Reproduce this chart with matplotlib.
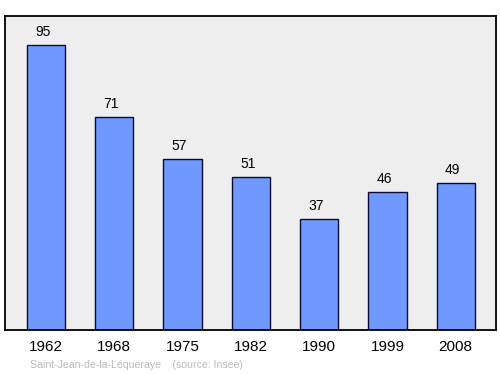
import matplotlib.pyplot as plt

plt.rcParams['font.family'] = ['Liberation Sans', 'DejaVu Sans']

# population data
years = ['1962', '1968', '1975', '1982', '1990', '1999', '2008']
population = [95, 71, 57, 51, 37, 46, 49]

fig = plt.figure(figsize=(5, 3.74), dpi=100)
ax = fig.add_axes([5 / 500, 1 - 330 / 374, 491 / 500, 314 / 374])
ax.set_facecolor('#eeeeee')

x = range(len(years))
ax.bar(x, population, width=0.56, color='#7099ff', edgecolor='#0a0a33', linewidth=1)

for i, v in zip(x, population):
    ax.text(i - 0.045, v + 2.1, str(v), ha='center', va='bottom', fontsize=10)

ax.set_xlim(-0.6, 6.59)
ax.set_ylim(0, 104.7)
ax.set_xticks(list(x))
ax.set_xticklabels(years, fontsize=11)
ax.tick_params(axis='x', length=0, pad=7)
ax.set_yticks([])
for s in ax.spines.values():
    s.set_linewidth(1.3)

fig.text(30 / 500, 1 - 365 / 374, 'Saint-Jean-de-la-Léqueraye    (source: Insee)',
         fontsize=7.6, color='#bbbbbb', va='center')

fig.savefig('out.png', dpi=100)
